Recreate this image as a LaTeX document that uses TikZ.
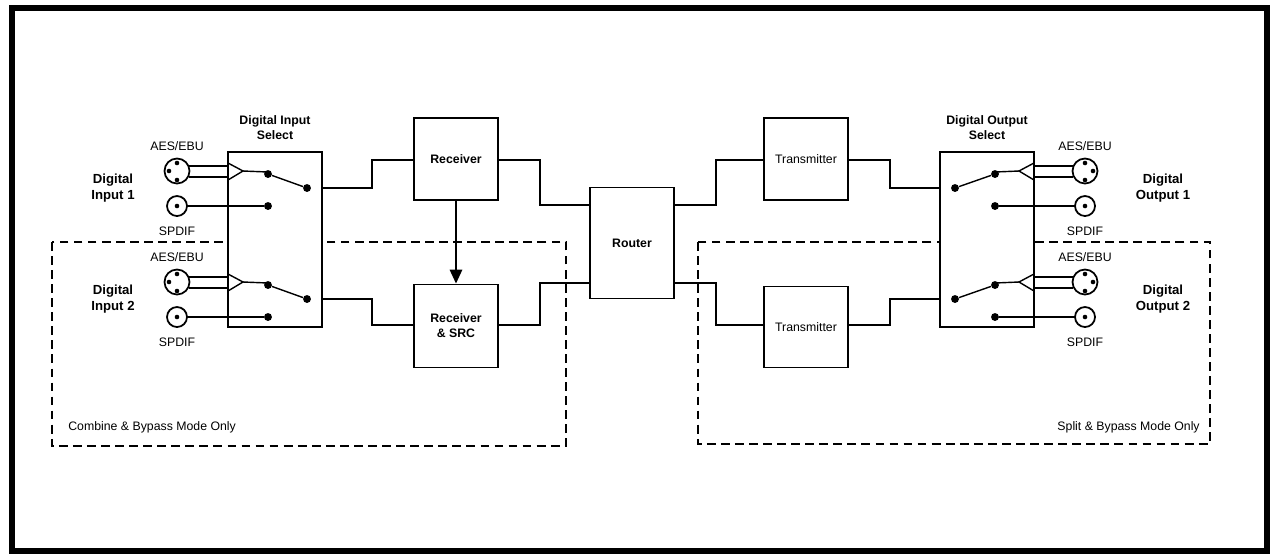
\documentclass[tikz,border=0pt]{standalone}
\usepackage{fontspec}
\setmainfont{Liberation Sans}
\usetikzlibrary{arrows.meta}
\begin{document}
\begin{tikzpicture}[x=0.02cm,y=-0.02cm,
  blk/.style={draw,line width=1pt,inner sep=0,font=\fontsize{7}{8}\selectfont},
  wire/.style={line width=1.3pt},
  thin/.style={line width=0.8pt},
  dsh/.style={draw,line width=0.7pt,dash pattern=on 5pt off 3pt},
  lbl/.style={font=\fontsize{7}{8.5}\selectfont,align=center,inner sep=0},
  dot/.style={circle,fill,inner sep=0,minimum size=4.5pt}]
\useasboundingbox (0,0) rectangle (1279,559);
\draw[line width=3pt] (12,8) rectangle (1267,551);
% dashed regions
\draw[dsh] (52,242) rectangle (566,446);
\draw[dsh] (698,242) rectangle (1210,444);
\node[lbl,anchor=west] (cb) at (68,427) {Combine \& Bypass Mode Only};
\node[lbl,anchor=east] (sb) at (1200,427) {Split \& Bypass Mode Only};
% blocks
\draw[line width=1pt,fill=white] (228,152) rectangle (322,327);
\coordinate (disR1) at (322,188); \coordinate (disR2) at (322,299);
\draw[line width=1pt,fill=white] (940,152) rectangle (1034,327);
\coordinate (dosL1) at (940,188); \coordinate (dosL2) at (940,299);
\node[lbl,font=\bfseries\fontsize{7}{8.5}\selectfont] (dist) at (275,128) {Digital Input\\Select};
\node[lbl,font=\bfseries\fontsize{7}{8.5}\selectfont] (dost) at (987,128) {Digital Output\\Select};
\node[blk,minimum width=1.68cm,minimum height=1.64cm,font=\bfseries\fontsize{7}{8}\selectfont] (rx) at (456,159) {Receiver};
\node[blk,minimum width=1.68cm,minimum height=1.66cm,align=center,font=\bfseries\fontsize{7}{8.5}\selectfont] (src) at (456,326) {Receiver\\\& SRC};
\node[blk,minimum width=1.68cm,minimum height=2.22cm,font=\bfseries\fontsize{7}{8}\selectfont] (rt) at (632,243) {Router};
\node[blk,minimum width=1.68cm,minimum height=1.64cm] (tx1) at (806,159) {Transmitter};
\node[blk,minimum width=1.68cm,minimum height=1.62cm] (tx2) at (806,327) {Transmitter};
% wires
\draw[wire] (disR1) -- (372,188) -- (372,160) -- (rx.west|-0,160);
\draw[wire] (rx.east|-0,160) -- (540,160) -- (540,205) -- (rt.west|-0,205);
\draw[thin] (disR2) -- (372,299) -- (372,325) -- (src.west|-0,325);
\draw[thin] (src.east|-0,325) -- (540,325) -- (540,283) -- (rt.west|-0,283);
\draw[wire,-{Triangle[length=8pt,width=7pt]}] (rx.south) -- (src.north);
\draw[wire] (rt.east|-0,205) -- (716,205) -- (716,160) -- (tx1.west|-0,160);
\draw[wire] (tx1.east|-0,160) -- (890,160) -- (890,188) -- (dosL1);
\draw[thin] (rt.east|-0,283) -- (716,283) -- (716,325) -- (tx2.west|-0,325);
\draw[thin] (tx2.east|-0,325) -- (890,325) -- (890,299) -- (dosL2);
% connectors
\foreach \y/\n in {0/1,111/2}{
  \begin{scope}[yshift=-\y*0.02cm]
  \draw[line width=1pt] (177,171) circle (12.5);
  \fill (177,163) circle (2.3) (169,171) circle (2.3) (177,180) circle (2.3);
  \draw[line width=1pt] (177,206) circle (10);
  \fill (177,206) circle (2.3);
  \draw[thin] (189,166) -- (228,166) (189,177) -- (228,177);
  \draw[thin] (228,163) -- (243,171) -- (228,180);
  \draw[thin] (243,171) -- (268,172);
  \node[dot] (a\n) at (268,174) {};
  \node[dot] (b\n) at (307,188) {};
  \node[dot] (c\n) at (268,206) {};
  \draw[thin] (a\n) -- (b\n);
  \draw[thin] (187,206) -- (c\n);
  \node[lbl] (ae\n) at (177,146) {AES/EBU};
  \node[lbl] (sp\n) at (177,231) {SPDIF};
  \node[lbl,font=\bfseries\fontsize{7.5}{9}\selectfont] (di\n) at (113,188) {Digital\\Input \n};
  \end{scope}
  \begin{scope}[yshift=-\y*0.02cm]
  \draw[line width=1pt] (1085,171) circle (12.5);
  \fill (1085,163) circle (2.3) (1093,171) circle (2.3) (1085,180) circle (2.3);
  \draw[line width=1pt] (1085,206) circle (10);
  \fill (1085,206) circle (2.3);
  \draw[thin] (1073,166) -- (1034,166) (1073,177) -- (1034,177);
  \draw[thin] (1034,163) -- (1019,171) -- (1034,180);
  \draw[thin] (1019,171) -- (995,172);
  \node[dot] (d\n) at (995,174) {};
  \node[dot] (e\n) at (955,188) {};
  \node[dot] (f\n) at (995,206) {};
  \draw[thin] (d\n) -- (e\n);
  \draw[thin] (1075,206) -- (f\n);
  \node[lbl] (oae\n) at (1085,146) {AES/EBU};
  \node[lbl] (osp\n) at (1085,231) {SPDIF};
  \node[lbl,font=\bfseries\fontsize{7.5}{9}\selectfont] (do\n) at (1163,188) {Digital\\Output \n};
  \end{scope}
}
\end{tikzpicture}
\end{document}
